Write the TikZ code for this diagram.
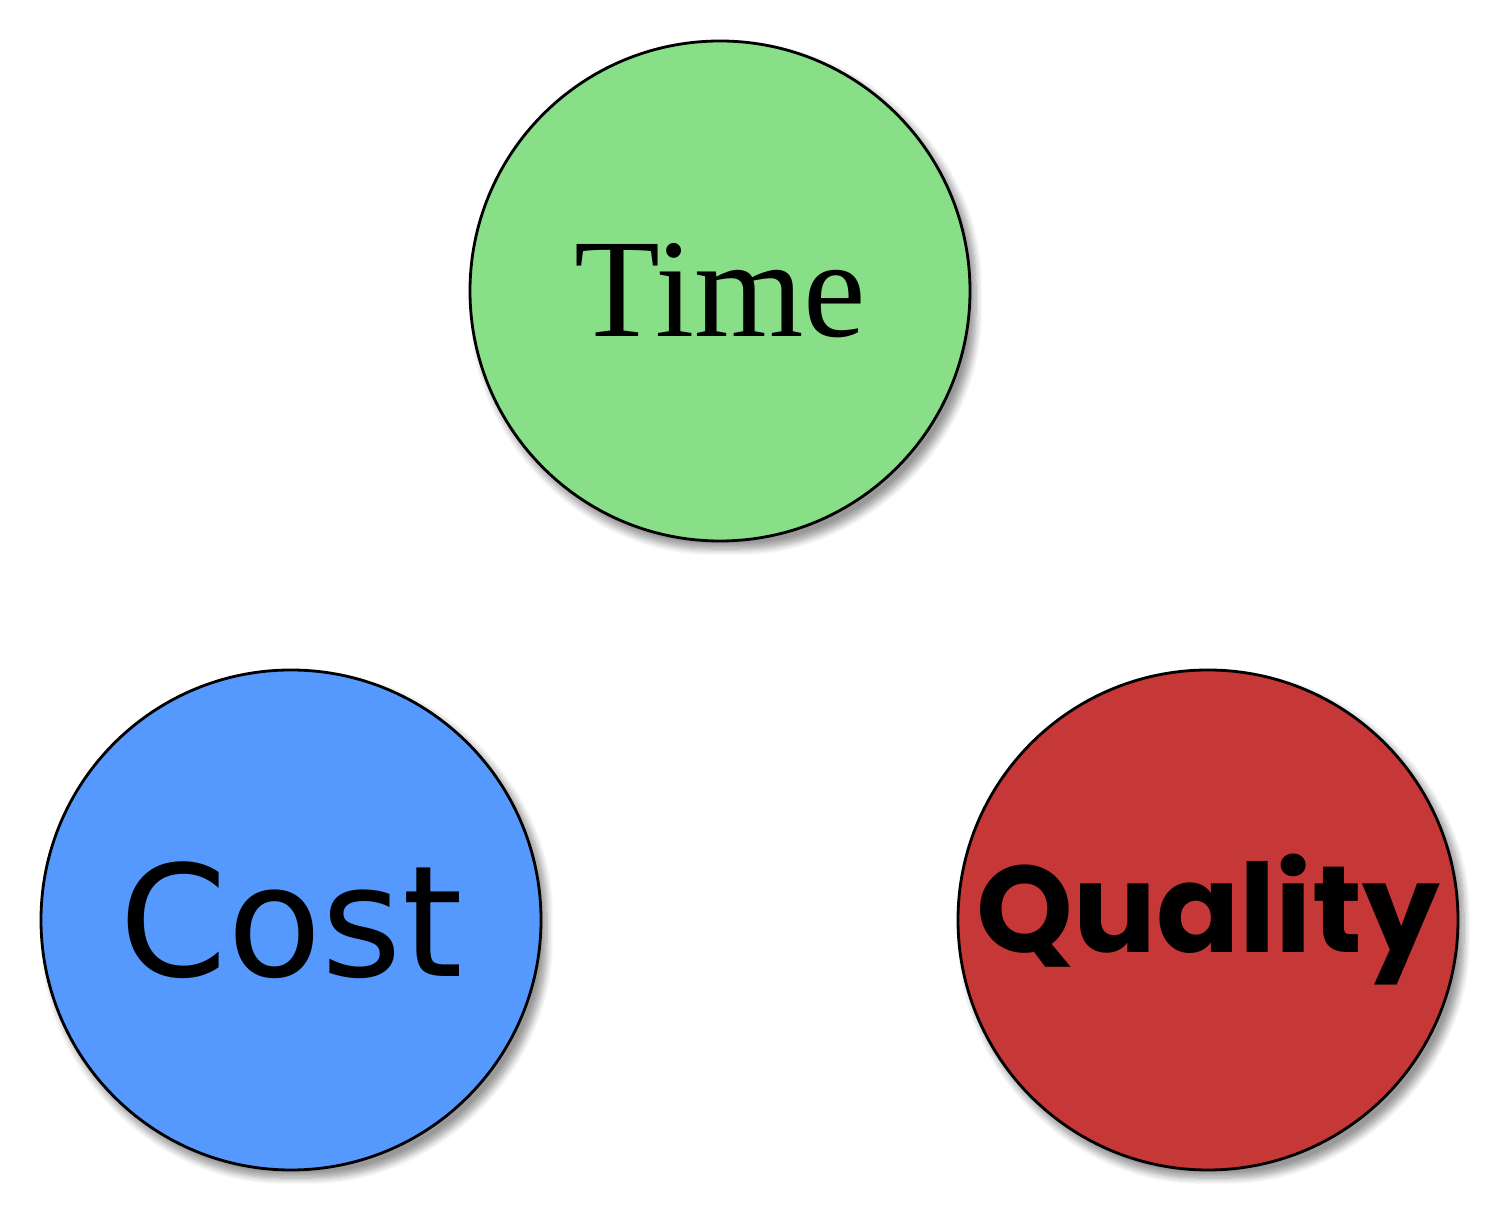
\documentclass[tikz,border=0pt]{standalone}
\usepackage{fontspec}
\setmainfont{Liberation Serif}
\newfontfamily\costfont{DejaVu Sans}
\newfontfamily\qualityfont{Poppins}
\usepackage{xcolor}
\usetikzlibrary{shadows.blur}
\definecolor{timegreen}{HTML}{89DE88}
\definecolor{costblue}{HTML}{5599FF}
\definecolor{qualityred}{HTML}{C63737}
\tikzset{
	goal/.style={
			circle, draw=black, thick, minimum size=5cm, inner sep=0pt,
			blur shadow={shadow xshift=0.6mm, shadow yshift=-0.8mm, shadow blur steps=8, shadow blur extra rounding=1.5mm}
		}
}

\begin{document}
\begin{tikzpicture}
		\useasboundingbox (0,0) rectangle (15,-12.13);

		\node[goal, fill=timegreen]	(time)	at (7.2,-2.91)	{\fontsize{40}{44}\selectfont Time};
		\node[goal, fill=costblue]	(cost)	at (2.91,-9.2)	{\costfont\fontsize{44}{48}\selectfont Cost};
		\node[goal, fill=qualityred]	(quality)	at (12.08,-9.2)	{\qualityfont\bfseries\fontsize{35}{38}\selectfont Quality};
	\end{tikzpicture}
\end{document}
